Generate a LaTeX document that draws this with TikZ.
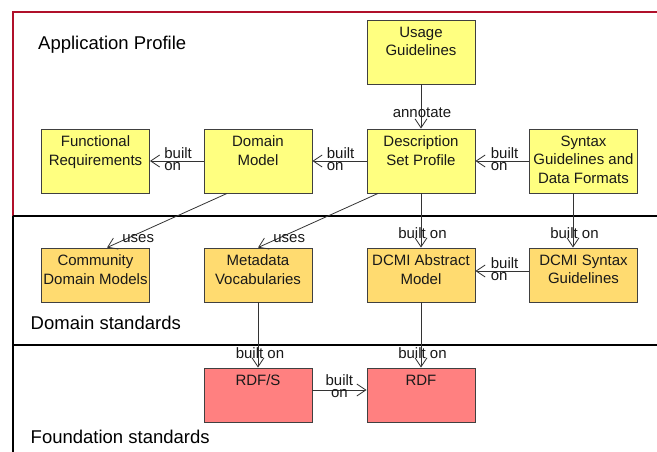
\documentclass[tikz,border=0pt]{standalone}
\usepackage{fontspec}
\setmainfont{Liberation Sans}
\usetikzlibrary{arrows.meta}

\definecolor{apyellow}{RGB}{255,255,128}
\definecolor{dsorange}{RGB}{255,219,112}
\definecolor{fdsalmon}{RGB}{255,128,128}
\definecolor{framered}{RGB}{176,16,42}

\newcommand{\boxfont}{\fontsize{15}{18.5}\selectfont}
\newcommand{\edgefont}{\fontsize{15}{12}\selectfont}
\newcommand{\areafont}{\fontsize{18.5}{22}\selectfont}

\tikzset{
  stdbox/.style={draw=black!75, line width=0.9pt, minimum width=108pt, inner sep=0pt},
  apbox/.style={stdbox, minimum height=64pt, fill=apyellow},
  dsbox/.style={stdbox, minimum height=54pt, fill=dsorange},
  fdbox/.style={stdbox, minimum height=54pt, fill=fdsalmon},
  boxtext/.style={anchor=north, yshift=-7pt, align=center, font=\boxfont, inner sep=0pt, text=black!90},
  edgelab/.style={font=\edgefont, inner sep=0pt, text=black!90},
  area/.style={font=\areafont, inner sep=0pt, anchor=base west},
  >={Straight Barb[length=9pt,width=12pt]},
  conn/.style={draw=black!80, line width=0.8pt, ->},
}

\begin{document}
\begin{tikzpicture}[x=1pt,y=-1pt]
\useasboundingbox (0,0) rectangle (657,452);

% frames of the three layers
\draw [framered, line width=2pt] (657,12.5) -- (13,12.5) -- (13,216);
\draw [black, line width=2.5pt] (13,216) -- (657,216);
\draw [black, line width=2.5pt] (13,345) -- (657,345);
\draw [black, line width=2pt] (13,216) -- (13,452);
\node (aplabel) [area] at (38,50) {Application Profile};
\node (dslabel) [area] at (30.5,329.5) {Domain standards};
\node (fdlabel) [area] at (30.5,443.5) {Foundation standards};

% application profile
\node (usage) [apbox,label={[boxtext]north:Usage\\Guidelines}] at (421,52) {};
\node (funreq) [apbox,label={[boxtext]north:Functional\\Requirements}] at (95.5,161) {};
\node (dommod) [apbox,label={[boxtext]north:Domain\\Model}] at (258,161) {};
\node (dsp) [apbox,label={[boxtext]north:Description\\Set Profile}] at (421,161) {};
\node (synfmt) [apbox,label={[boxtext]north:Syntax\\Guidelines and\\Data Formats}] at (583.5,161) {};

% domain standards
\node (commod) [dsbox,label={[boxtext]north:Community\\Domain Models}] at (95.5,275) {};
\node (metavoc) [dsbox,label={[boxtext]north:Metadata\\Vocabularies}] at (258,275) {};
\node (dcmiam) [dsbox,label={[boxtext]north:DCMI Abstract\\Model}] at (421,275) {};
\node (dcmisyn) [dsbox,label={[boxtext]north:DCMI Syntax\\Guidelines}] at (583.5,275) {};

% foundation standards
\node (rdfs) [fdbox,label={[boxtext]north:RDF/S}] at (258,395) {};
\node (rdf) [fdbox,label={[boxtext]north:RDF}] at (421,395) {};

\draw [conn] (usage) -- (dsp) node[edgelab,at end,anchor=base,yshift=11.5pt,xshift=1pt] {annotate};
\draw [conn] (dommod) -- (funreq) node[edgelab,at end,anchor=west,xshift=14pt,yshift=2pt,align=left] {built\\on};
\draw [conn] (dsp) -- (dommod) node[edgelab,at end,anchor=west,xshift=14pt,yshift=2pt,align=left] {built\\on};
\draw [conn] (synfmt) -- (dsp) node[edgelab,at end,anchor=west,xshift=15pt,yshift=2pt,align=left] {built\\on};
\draw [conn] ([xshift=-31pt]dommod.south) -- ([xshift=11.5pt]commod.north) node[edgelab,at end,anchor=base west,xshift=15pt,yshift=5pt] {uses};
\draw [conn] ([xshift=-43pt]dsp.south) -- (metavoc.north) node[edgelab,at end,anchor=base west,xshift=15pt,yshift=5pt] {uses};
\draw [conn] (dsp) -- (dcmiam) node[edgelab,at end,anchor=base,yshift=9pt,xshift=1.5pt] {built on};
\draw [conn] ([xshift=-10.5pt]synfmt.south) -- ([xshift=-10.5pt]dcmisyn.north) node[edgelab,at end,anchor=base,yshift=9pt,xshift=1.5pt] {built on};
\draw [conn] ([yshift=4pt]dcmisyn.west) -- ([yshift=4pt]dcmiam.east) node[edgelab,at end,anchor=west,xshift=15pt,yshift=2pt,align=left] {built\\on};
\draw [conn] (metavoc) -- (rdfs) node[edgelab,at end,anchor=base,yshift=9pt,xshift=2pt] {built on};
\draw [conn] (dcmiam) -- (rdf) node[edgelab,at end,anchor=base,yshift=9pt,xshift=1.5pt] {built on};
\draw [conn] ([yshift=5pt]rdfs.east) -- ([yshift=5pt]rdf.west) node[edgelab,at end,anchor=east,xshift=-13pt,yshift=4pt,align=center] {built\\on};
\end{tikzpicture}
\end{document}
